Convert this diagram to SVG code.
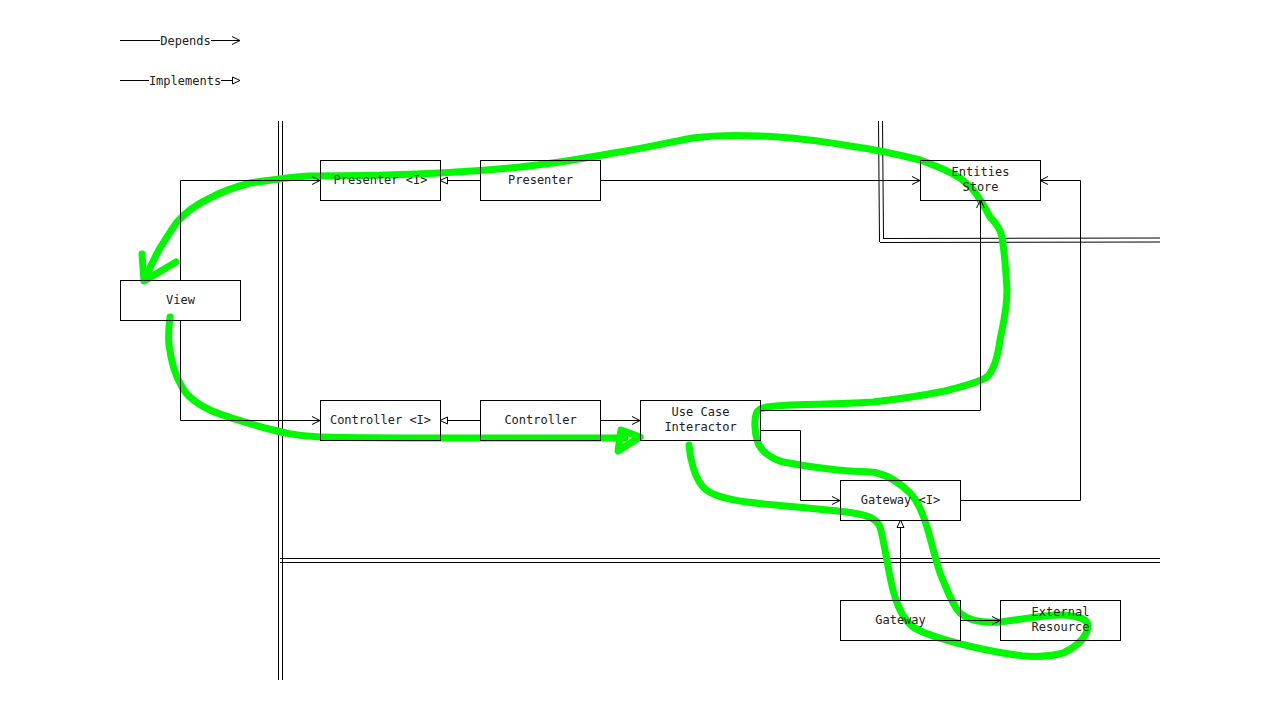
<svg xmlns="http://www.w3.org/2000/svg" width="1280" height="720" viewBox="0 0 1280 720">
<style>
.box{fill:none;stroke:#000;stroke-width:1}
.lbl{font-family:"DejaVu Sans Mono","Liberation Mono",monospace;font-size:12px;fill:#222;text-anchor:middle}
.ln{fill:none;stroke:#000;stroke-width:1}
.hl{fill:none;stroke:#00f800;stroke-width:7;stroke-linecap:round;stroke-linejoin:round}
</style>
<defs>
<marker id="dep" viewBox="0 0 10 10" refX="9" refY="5" markerWidth="10" markerHeight="10" markerUnits="userSpaceOnUse" orient="auto">
<path d="M1,1 L9,5 L1,9" fill="none" stroke="#000" stroke-width="1"/>
</marker>
<marker id="impl" viewBox="0 0 10 10" refX="9" refY="5" markerWidth="10" markerHeight="10" markerUnits="userSpaceOnUse" orient="auto">
<path d="M1.5,1.5 L9,5 L1.5,8.5 Z" fill="#fff" stroke="#000" stroke-width="1"/>
</marker>
</defs>
<rect width="1280" height="720" fill="#fff"/>

<g id="legend">
<line class="ln" x1="120" y1="40.5" x2="160" y2="40.5"/>
<text class="lbl" x="185.5" y="45">Depends</text>
<line class="ln" x1="211" y1="40.5" x2="240" y2="40.5" marker-end="url(#dep)"/>
<line class="ln" x1="120" y1="80.5" x2="149" y2="80.5"/>
<text class="lbl" x="185" y="85">Implements</text>
<line class="ln" x1="221" y1="80.5" x2="240" y2="80.5" marker-end="url(#impl)"/>
</g>

<g id="boundaries">
<line class="ln" x1="278.5" y1="121" x2="278.5" y2="680"/>
<line class="ln" x1="282.5" y1="121" x2="282.5" y2="680"/>
<line class="ln" x1="280" y1="558.5" x2="1160" y2="558.5"/>
<line class="ln" x1="280" y1="562.5" x2="1160" y2="562.5"/>
<line class="ln" x1="878.5" y1="121" x2="879.5" y2="242"/>
<line class="ln" x1="882.5" y1="121" x2="883.5" y2="238"/>
<line class="ln" x1="883" y1="238.5" x2="1160" y2="238"/>
<line class="ln" x1="880" y1="242.5" x2="1160" y2="242"/>
</g>

<g id="annotation">
<path class="hl" d="M689,445 C690,460 695,478 703,487 C710,495 725,499 747,502 C770,505 800,507 847,512 C868,515 876,518 880,527 C884,540 888,570 893,590 C897,605 902,618 913,627 C925,635 960,645 997,652 C1020,656 1040,659 1063,653 C1078,646 1086,638 1088,627 C1089,620 1080,616 1063,615 C1045,614 1020,620 1000,622 C985,623 970,622 960,613 C953,606 947,590 940,573 C935,558 931,540 927,527 C923,514 917,500 910,493 C903,486 893,477 877,473 C868,471 860,472 850,471 C835,470 805,466 783,462 C772,459 762,452 758,443 C754,432 754,418 757,412 C760,407 770,406 790,405 C830,404 860,403 873,402 C900,399 925,395 945,391 C965,386 983,381 988,376 C995,368 998,355 1000,340 C1003,325 1007,310 1007,290 C1006,270 1004,250 1002,237 C1000,228 995,222 990,217 C986,210 984,205 980,200 C975,190 968,184 960,178 C950,172 940,167 920,160 C900,155 880,150 850,146 C820,141 790,137 760,136 C735,135 715,135 693,138 C670,142 645,148 620,152 C590,157 560,163 520,167 C490,170 460,172 440,173 C400,175 350,176 310,176 C290,177 270,180 250,183 C235,187 225,190 210,198 C195,205 185,213 177,222 C170,232 165,240 160,248 C155,257 150,267 145,279"/>
<polyline class="hl" points="142,254 144,281 176,262"/>
<path class="hl" d="M170,317 C169,325 168,335 169,345 C171,360 175,375 181,385 C186,396 195,403 210,410 C225,417 245,422 265,428 C280,432 295,436 320,437 C360,438 400,438 440,438 C500,438 560,438 625,438"/>
<polygon class="hl" points="621,430 640,437 618,451" fill="#00f800"/>
</g>

<g id="connectors">
<polyline class="ln" points="180.5,280 180.5,180.5 320,180.5" marker-end="url(#dep)"/>
<polyline class="ln" points="180.5,320 180.5,420.5 320,420.5" marker-end="url(#dep)"/>
<line class="ln" x1="480" y1="180.5" x2="440" y2="180.5" marker-end="url(#impl)"/>
<line class="ln" x1="600" y1="180.5" x2="920" y2="180.5" marker-end="url(#dep)"/>
<line class="ln" x1="480" y1="420.5" x2="440" y2="420.5" marker-end="url(#impl)"/>
<line class="ln" x1="600" y1="420.5" x2="640" y2="420.5" marker-end="url(#dep)"/>
<polyline class="ln" points="760,410.5 980.5,410.5 980.5,200" marker-end="url(#dep)"/>
<polyline class="ln" points="760,430.5 800.5,430.5 800.5,500.5 840,500.5" marker-end="url(#dep)"/>
<polyline class="ln" points="960,500.5 1080.5,500.5 1080.5,180.5 1040,180.5" marker-end="url(#dep)"/>
<line class="ln" x1="900.5" y1="600" x2="900.5" y2="520" marker-end="url(#impl)"/>
<line class="ln" x1="960" y1="620.5" x2="1000" y2="620.5" marker-end="url(#dep)"/>
</g>

<g id="presenter-i"><rect class="box" x="320.5" y="160.5" width="120" height="40"/><text class="lbl" x="380.5" y="184">Presenter &lt;I&gt;</text></g>
<g id="presenter"><rect class="box" x="480.5" y="160.5" width="120" height="40"/><text class="lbl" x="540.5" y="184">Presenter</text></g>
<g id="entities-store"><rect class="box" x="920.5" y="160.5" width="120" height="40"/><text class="lbl" x="980.5" y="176">Entities</text><text class="lbl" x="980.5" y="191">Store</text></g>
<g id="view"><rect class="box" x="120.5" y="280.5" width="120" height="40"/><text class="lbl" x="180.5" y="304">View</text></g>
<g id="controller-i"><rect class="box" x="320.5" y="400.5" width="120" height="40"/><text class="lbl" x="380.5" y="424">Controller &lt;I&gt;</text></g>
<g id="controller"><rect class="box" x="480.5" y="400.5" width="120" height="40"/><text class="lbl" x="540.5" y="424">Controller</text></g>
<g id="use-case-interactor"><rect class="box" x="640.5" y="400.5" width="120" height="40"/><text class="lbl" x="700.5" y="416">Use Case</text><text class="lbl" x="700.5" y="431">Interactor</text></g>
<g id="gateway-i"><rect class="box" x="840.5" y="480.5" width="120" height="40"/><text class="lbl" x="900.5" y="504">Gateway &lt;I&gt;</text></g>
<g id="gateway"><rect class="box" x="840.5" y="600.5" width="120" height="40"/><text class="lbl" x="900.5" y="624">Gateway</text></g>
<g id="external-resource"><rect class="box" x="1000.5" y="600.5" width="120" height="40"/><text class="lbl" x="1060.5" y="616">External</text><text class="lbl" x="1060.5" y="631">Resource</text></g>
</svg>
